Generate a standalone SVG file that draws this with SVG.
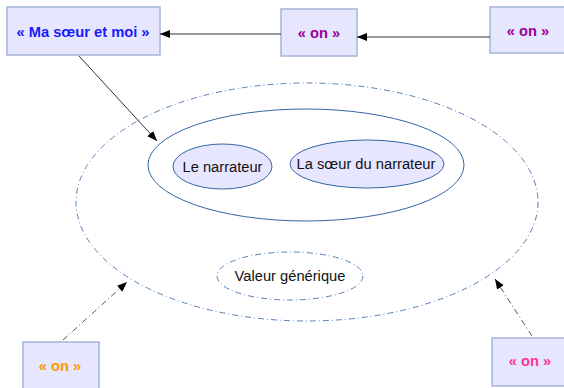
<svg xmlns="http://www.w3.org/2000/svg" width="564" height="388" viewBox="0 0 564 388">
<defs>
<style>
.box{fill:#e6e6ff;stroke:#a4b4dc;stroke-width:1.5}
.lbl{font-family:"Liberation Sans",Arial,sans-serif;font-size:14.7px;font-weight:bold;text-anchor:middle;dominant-baseline:central}
.txt{font-family:"Liberation Sans",Arial,sans-serif;font-size:14.7px;fill:#111;text-anchor:middle;dominant-baseline:central}
.ell{fill:#e6e6ff;stroke:#3465a4;stroke-width:1}
.dd{fill:none;stroke:#5a82b8;stroke-width:1;stroke-dasharray:6 3 1 3}
.conn{stroke:#333;stroke-width:1;fill:none}
.conndd{stroke:#555;stroke-width:1;fill:none;stroke-dasharray:6 3 1 3}
</style>
<marker id="arr" viewBox="0 0 10 10" refX="10" refY="5" markerWidth="10" markerHeight="10" markerUnits="userSpaceOnUse" orient="auto">
<path d="M0,1 L10,5 L0,9 z" fill="#000"/>
</marker>
</defs>
<g id="outer-set"><ellipse class="dd" cx="307" cy="202" rx="231" ry="119"/></g>
<g id="inner-set"><ellipse fill="#fff" stroke="#3465a4" stroke-width="1" cx="306" cy="165" rx="158" ry="56"/></g>
<g id="le-narrateur"><ellipse class="ell" cx="222.5" cy="166.5" rx="49.5" ry="22.5"/><text class="txt" x="222.5" y="167">Le narrateur</text></g>
<g id="la-soeur"><ellipse class="ell" cx="367" cy="164" rx="77" ry="24"/><text class="txt" x="366" y="164">La sœur du narrateur</text></g>
<g id="valeur-generique"><ellipse class="dd" fill="#fff" cx="290" cy="276" rx="73" ry="24"/><text class="txt" x="290" y="276">Valeur générique</text></g>
<g id="ma-soeur-et-moi"><rect class="box" x="7" y="7" width="153" height="48"/><text class="lbl" x="83" y="32" fill="#1a1aff">« Ma sœur et moi »</text></g>
<g id="on-purple-1"><rect class="box" x="281" y="9" width="76" height="47"/><text class="lbl" x="319" y="33" fill="#990099">« on »</text></g>
<g id="on-purple-2"><rect class="box" x="490" y="7" width="76" height="46"/><text class="lbl" x="528" y="31" fill="#990099">« on »</text></g>
<g id="on-orange"><rect class="box" x="23" y="342" width="76" height="50"/><text class="lbl" x="60" y="366" fill="#ff9900">« on »</text></g>
<g id="on-pink"><rect class="box" x="492" y="338" width="76" height="48"/><text class="lbl" x="530" y="361" fill="#ff3399">« on »</text></g>
<g id="connectors">
<line class="conn" x1="490" y1="37" x2="357" y2="37" marker-end="url(#arr)"/>
<line class="conn" x1="281" y1="34" x2="160" y2="34" marker-end="url(#arr)"/>
<line class="conn" x1="79" y1="56" x2="157" y2="141" marker-end="url(#arr)"/>
<line class="conndd" x1="63" y1="340" x2="127" y2="282" marker-end="url(#arr)"/>
<line class="conndd" x1="532" y1="336" x2="495" y2="279" marker-end="url(#arr)"/>
</g>
</svg>
